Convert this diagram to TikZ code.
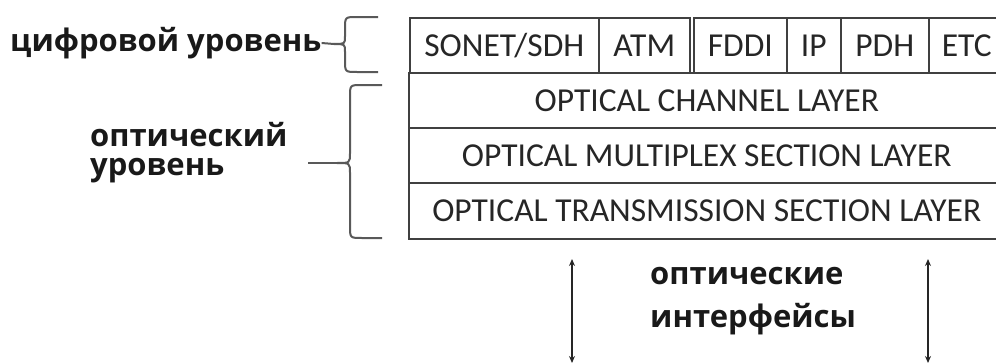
\documentclass[tikz,border=0pt]{standalone}
\usepackage{fontspec}
\setmainfont{Carlito}
\newfontfamily\rufont{Open Sans}
\usetikzlibrary{arrows.meta}

\tikzset{
    cell/.style={draw=black!75, line width=1.6pt, anchor=north west, inner sep=0pt,
        minimum height=55pt, text=black!85, font=\fontsize{33.5}{36}\selectfont},
    lvl/.style={anchor=west, inner sep=0pt, text=black!90,
        font=\rufont\bfseries\fontsize{31}{34}\selectfont},
    brc/.style={draw=black!65, line width=2pt},
}

\begin{document}
\begin{tikzpicture}[x=1pt, y=-1pt]
    \useasboundingbox (0,0) rectangle (996,364);
    \clip (0,0) rectangle (996,364);

    % digital level: protocol cells
    \node[cell, minimum width=189pt] (sonet) at (409,17) {SONET/SDH};
    \node[cell, minimum width=91pt]  (atm)   at (598,17) {ATM};
    \node[cell, minimum width=93pt]  (fddi)  at (693,17) {FDDI};
    \node[cell, minimum width=54pt]  (ip)    at (786,17) {IP};
    \node[cell, minimum width=88pt]  (pdh)   at (840,17) {PDH};
    \node[cell, minimum width=76pt]  (etc)   at (928,17) {ETC};

    % optical layers
    \node[cell, minimum width=596pt] (och) at (408,72)  {OPTICAL CHANNEL LAYER};
    \node[cell, minimum width=596pt] (oms) at (408,127) {OPTICAL MULTIPLEX SECTION LAYER};
    \node[cell, minimum width=596pt, minimum height=56pt] (ots) at (408,182) {OPTICAL TRANSMISSION SECTION LAYER};

    % braces
    \coordinate (digtip) at (334,44);
    \draw[brc] (378,17) -- (357,17) .. controls (345,17) .. (345,29) -- (345,36)
        .. controls (345,44) .. (digtip) .. controls (345,44) .. (345,52)
        -- (345,60) .. controls (345,72) .. (357,72) -- (378,72);

    \coordinate (opttip) at (337,163);
    \coordinate (optend) at (308,163);
    \draw[brc] (382,85) -- (362,85) .. controls (350,85) .. (350,97) -- (350,153)
        .. controls (350,163) .. (opttip) .. controls (350,163) .. (350,173)
        -- (350,226) .. controls (350,238) .. (362,238) -- (382,238);
    \draw[brc] (optend) -- (opttip);

    % level labels
    \node[lvl] (dig) at (10,43) {цифровой уровень};
    \draw[brc] (dig.east) -- (digtip);
    \node[lvl] (opt1) at (90,135) {оптический};
    \node[lvl] (opt2) at (90,171) {уровень};

    % optical interfaces
    \coordinate (la) at (572,259);
    \coordinate (lb) at (572,363);
    \coordinate (ra) at (928,259);
    \coordinate (rb) at (928,363);
    \draw[{Stealth[length=7pt,width=6pt]}-{Stealth[length=7pt,width=6pt]}, line width=1.6pt, black!85] (la) -- (lb);
    \draw[{Stealth[length=7pt,width=6pt]}-{Stealth[length=7pt,width=6pt]}, line width=1.6pt, black!85] (ra) -- (rb);
    \node[lvl] (ifc1) at (650,276) {оптические};
    \node[lvl] (ifc2) at (650,319) {интерфейсы};
\end{tikzpicture}
\end{document}
